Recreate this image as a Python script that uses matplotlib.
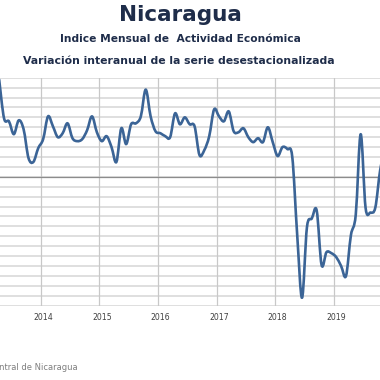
import matplotlib
matplotlib.use('Agg')
import matplotlib.pyplot as plt
from matplotlib.path import Path
from matplotlib.patches import PathPatch
import numpy as np

# month index: 0 = Jan 2014
start_month = -9
imae_var = [9.8, 5.9, 5.6, 4.3, 5.7, 4.8, 1.9, 1.5, 2.9,
            3.8, 6.1, 5.1, 4.0, 4.4, 5.4, 3.9, 3.6, 3.8, 4.7, 6.1, 4.5,
            3.6, 4.1, 3.0, 1.5, 4.9, 3.3, 5.3, 5.4, 6.1, 8.8, 6.1, 4.6,
            4.4, 4.1, 4.0, 6.4, 5.3, 6.0, 5.3, 5.1, 2.2, 2.7, 4.1, 6.8,
            6.1, 5.6, 6.6, 4.6, 4.5, 4.9, 4.0, 3.5, 3.9, 3.5, 5.0, 3.5,
            2.1, 3.0, 2.8, 2.0, -5.8, -12.2, -5.1, -4.2, -3.4, -8.9, -7.6, -7.7,
            -8.1, -9.0, -10.0, -5.9, -3.8, 4.3, -3.1, -3.6, -3.1, 0.7, 2.8]
years = ['2014', '2015', '2016', '2017', '2018', '2019']

months = np.arange(start_month, start_month + len(imae_var))
vals = np.array(imae_var)

# pixel layout of the original (cropped) Excel chart
px_per_month = 4.885
x0_px = 43.14
def m_at(px):
    return (px - x0_px) / px_per_month

fig = plt.figure(figsize=(3.8, 3.8), dpi=100)
left_px, right_px = -60, 420
ax = fig.add_axes([left_px / 380, (380 - 305.7) / 380, (right_px - left_px) / 380, 228 / 380])
ax.set_xlim(m_at(left_px), m_at(right_px))
ax.set_ylim(-13, 10)

for s in ax.spines.values():
    s.set_visible(False)
ax.set_yticks([])
ax.tick_params(axis='x', length=0, pad=5, labelsize=5.6, labelcolor='#404040')
ax.set_xticks([12 * i for i in range(len(years))])
ax.set_xticklabels(years)

for v in range(-12, 11):
    ax.axhline(v, color='#d9d9d9', lw=1.2, zorder=1)
ax.axhline(-13, color='#d9d9d9', lw=1.2, zorder=1)
ax.axhline(0, color='#8c8c8c', lw=0.9, zorder=2)
for k in range(-1, 7):
    ax.axvline(12 * k - 0.5, color='#c8c8c8', lw=0.9, zorder=1)

# Excel style smoothed line (cubic bezier through monthly points)
pts = np.column_stack([months, vals])
ext = np.vstack([pts[0], pts, pts[-1]])
verts = [pts[0]]
codes = [Path.MOVETO]
for i in range(1, len(ext) - 2):
    p0, p1, p2, p3 = ext[i - 1], ext[i], ext[i + 1], ext[i + 2]
    c1 = p1 + (p2 - p0) / 6
    c2 = p2 - (p3 - p1) / 6
    verts += [c1, c2, p2]
    codes += [Path.CURVE4] * 3
ax.add_patch(PathPatch(Path(verts, codes), fill=False, edgecolor='#3b6496',
                       lw=1.9, capstyle='round', joinstyle='round', zorder=3))

navy = '#1f2d4a'
fig.text(180 / 380, 1 - 15 / 380, 'Nicaragua', ha='center', va='center',
         fontsize=15.5, fontweight='bold', color=navy, family='DejaVu Sans')
fig.text(180 / 380, 1 - 39 / 380, 'Indice Mensual de  Actividad Económica', ha='center', va='center',
         fontsize=7.7, fontweight='bold', color=navy, family='DejaVu Sans')
fig.text(179 / 380, 1 - 61 / 380, 'Variación interanual de la serie desestacionalizada', ha='center', va='center',
         fontsize=7.85, fontweight='bold', color=navy, family='DejaVu Sans')
fig.text(78 / 380, 1 - 368 / 380, 'Fuente: Banco Central de Nicaragua', ha='right', va='center',
         fontsize=6, color='#7f7f7f')

fig.savefig('out.png', dpi=100)
